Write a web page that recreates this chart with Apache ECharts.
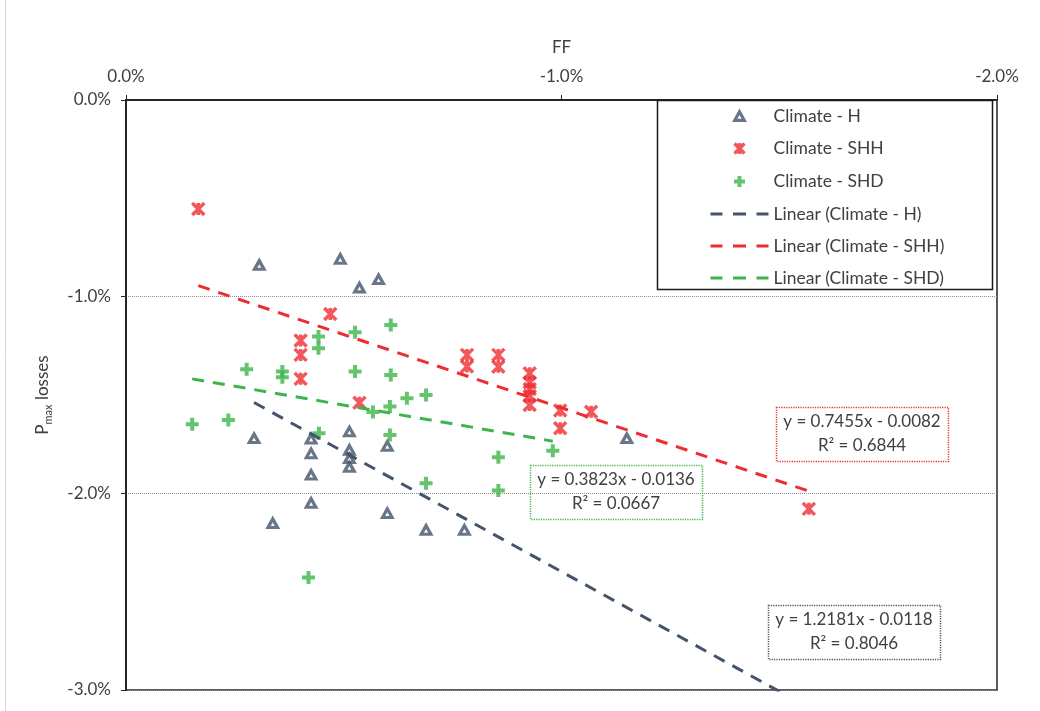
<!DOCTYPE html>
<html>
<head>
<meta charset="utf-8">
<script src="https://cdn.jsdelivr.net/npm/echarts@6/dist/echarts.min.js"></script>
<style>
  html, body { margin: 0; padding: 0; background: #fff; }
  #chart { width: 1040px; height: 711px; }
</style>
</head>
<body>
<div id="chart"></div>
<script>
// FF change (%) and Pmax losses (%) per climate group
const hFF    = [-0.306, -0.492, -0.536, -0.580, -0.294, -0.425, -0.425, -0.425, -0.425, -0.337,
                -0.513, -0.513, -0.513, -0.513, -0.600, -0.600, -0.689, -0.777, -1.150];
const hLoss  = [-0.839, -0.808, -0.954, -0.912, -1.720, -1.722, -1.797, -1.906, -2.049, -2.152,
                -1.686, -1.779, -1.822, -1.866, -1.759, -2.101, -2.186, -2.186, -1.720];

const shhFF   = [-0.166, -0.469, -0.401, -0.401, -0.401, -0.536, -0.783, -0.783, -0.855, -0.855,
                 -0.927, -0.927, -0.927, -0.927, -0.927, -0.997, -0.997, -1.068, -1.568];
const shhLoss = [-0.554, -1.088, -1.223, -1.296, -1.418, -1.539, -1.296, -1.355, -1.296, -1.356,
                 -1.389, -1.436, -1.469, -1.505, -1.551, -1.579, -1.669, -1.585, -2.079];

const shdFF   = [-0.152, -0.235, -0.277, -0.359, -0.359, -0.442, -0.442, -0.526, -0.608, -0.526,
                 -0.608, -0.645, -0.689, -0.606, -0.567, -0.443, -0.606, -0.689, -0.855, -0.855,
                 -0.980, -0.419];
const shdLoss = [-1.649, -1.627, -1.369, -1.381, -1.410, -1.202, -1.262, -1.181, -1.144, -1.381,
                 -1.398, -1.517, -1.500, -1.559, -1.586, -1.695, -1.703, -1.949, -1.817, -1.986,
                 -1.783, -2.428];

const seriesNames = ['Climate - H', 'Climate - SHH', 'Climate - SHD'];
const fitNames    = ['Linear (Climate - H)', 'Linear (Climate - SHH)', 'Linear (Climate - SHD)'];
// linear fits in fractional units (y = slope * x + intercept), with their x spans in %
const fitSlope     = [1.2181, 0.7455, 0.3823];
const fitIntercept = [-0.0118, -0.0082, -0.0136];
const fitR2        = [0.8046, 0.6844, 0.0667];
const fitFrom      = [-0.294, -0.166, -0.152];
const fitTo        = [-1.600, -1.568, -0.980];

const xRange = [-2, 0];
const yRange = [-3, 0];
const tickStep = 1;

const FONT = 'Lato, "Open Sans", sans-serif';
const TEXT = '#404040';
const colors = ['#44546A', '#EE2D32', '#3DB54A'];

function pairs(xs, ys) { return xs.map((x, i) => [x, ys[i]]); }
function fitLine(k) {
  const f = x => fitSlope[k] * x + fitIntercept[k] * 100;
  return [[fitFrom[k], f(fitFrom[k])], [fitTo[k], f(fitTo[k])]];
}
function fitLabel(k) {
  const b = fitIntercept[k];
  return 'y = ' + fitSlope[k].toFixed(4) + 'x ' + (b < 0 ? '- ' : '+ ') + Math.abs(b).toFixed(4) +
         '\nR² = ' + fitR2[k].toFixed(4);
}
const pct = v => v.toFixed(1) + '%';

// marker shapes
const STAR = 'path://M0 0L12 12M12 0L0 12M6 0V12';
const PLUS = 'path://M6 0V12M0 6H12';
// legend icons laid out in a 58x14 box
const ICON_TRI  = 'path://M0 0M58 14M29 2.7L33.75 11.3L24.25 11.3Z';
const ICON_STAR = 'path://M0 0M58 14M24 2L34 12M34 2L24 12M29 1.5V12.5';
const ICON_PLUS = 'path://M0 0M58 14M29 1.5V12.5M23.5 7H34.5';
const ICON_DASH = 'path://M0 0M58 14M0 5.5h12v3h-12zM22.5 5.5h13v3h-13zM46 5.5h12v3h-12z';

const chart = echarts.init(document.getElementById('chart'), null, { renderer: 'canvas' });

const scatterStyle = [
  { symbol: 'triangle', symbolSize: [9.5, 8.5], itemStyle: { color: '#fff', borderColor: colors[0], borderWidth: 3.2 } },
  { symbol: STAR, symbolSize: 12, itemStyle: { color: 'none', borderColor: colors[1], borderWidth: 3.5 } },
  { symbol: PLUS, symbolSize: 13, itemStyle: { color: 'none', borderColor: colors[2], borderWidth: 4 } }
];
const groups = [pairs(hFF, hLoss), pairs(shhFF, shhLoss), pairs(shdFF, shdLoss)];

const series = [];
groups.forEach((data, k) => {
  series.push(Object.assign({
    name: seriesNames[k], type: 'scatter', data: data, z: 3,
    emphasis: { disabled: true }
  }, scatterStyle[k]));
});
[0, 1, 2].forEach(k => {
  series.push({
    name: fitNames[k], type: 'line', data: fitLine(k), symbol: 'none', z: 4, clip: true,
    lineStyle: { color: colors[k], width: 3, type: [12, 9] },
    itemStyle: { color: colors[k] },
    emphasis: { disabled: true }
  });
});

const legendIcons = [ICON_TRI, ICON_STAR, ICON_PLUS];
const legendData = seriesNames.map((n, k) => ({
  name: n, icon: legendIcons[k],
  itemStyle: Object.assign({}, scatterStyle[k].itemStyle)
})).concat(fitNames.map((n, k) => ({
  name: n, icon: ICON_DASH, itemStyle: { color: colors[k], borderWidth: 0 }
})));

// equation boxes: [left, top] of each dotted frame
const eqBoxes = [[768, 605], [776, 407], [530, 465]];
const eqGraphics = [];
eqBoxes.forEach((p, k) => {
  eqGraphics.push({
    type: 'rect', z: 6, silent: true,
    shape: { x: p[0] + 0.5, y: p[1] + 0.5, width: 172, height: 54 },
    style: { fill: 'none', stroke: colors[k], lineWidth: 1.5, lineDash: [1.2, 1.2] }
  });
  eqGraphics.push({
    type: 'text', z: 7, silent: true, x: p[0] + 86, y: p[1] + 27,
    style: {
      text: fitLabel(k), fill: TEXT, font: '17px ' + FONT,
      align: 'center', verticalAlign: 'middle', lineHeight: 24
    }
  });
});

chart.setOption({
  animation: false,
  backgroundColor: '#fff',
  grid: {
    left: 126, right: 43, top: 100, bottom: 21,
    show: true, borderColor: '#262626', borderWidth: 1.5, backgroundColor: 'transparent'
  },
  xAxis: {
    type: 'value', position: 'top', inverse: true,
    min: xRange[0], max: xRange[1], interval: tickStep,
    name: 'FF', nameLocation: 'middle', nameGap: 44,
    nameTextStyle: { fontFamily: FONT, fontSize: 17, color: TEXT },
    axisLine: { show: true, onZero: false, lineStyle: { color: '#262626', width: 2 } },
    axisTick: { show: true, length: 5, lineStyle: { color: '#262626', width: 1 } },
    axisLabel: { formatter: pct, fontFamily: FONT, fontSize: 17, color: TEXT, margin: 15 },
    splitLine: { show: false }
  },
  yAxis: {
    type: 'value',
    min: yRange[0], max: yRange[1], interval: tickStep,
    name: '{a|P}{b|max}{a| losses}', nameLocation: 'middle', nameGap: 72, nameRotate: 90,
    nameTextStyle: {
      rich: {
        a: { fontFamily: FONT, fontSize: 17, color: TEXT, lineHeight: 22 },
        b: { fontFamily: FONT, fontSize: 11, color: TEXT, lineHeight: 12, verticalAlign: 'bottom' }
      }
    },
    axisLine: { show: true, onZero: false, lineStyle: { color: '#262626', width: 2 } },
    axisTick: { show: true, length: 5, lineStyle: { color: '#262626', width: 1 } },
    axisLabel: { formatter: pct, fontFamily: FONT, fontSize: 17, color: TEXT, margin: 15 },
    splitLine: { show: true, lineStyle: { color: '#8f8f8f', width: 1, type: [1, 1] } }
  },
  legend: {
    orient: 'vertical', left: 703, top: 102,
    itemWidth: 58, itemHeight: 14, itemGap: 14,
    selectedMode: false, z: 8,
    textStyle: { fontFamily: FONT, fontSize: 17.5, color: TEXT },
    data: legendData
  },
  graphic: [
    {
      type: 'line', silent: true, z: 1,
      shape: { x1: 5.5, y1: 0, x2: 5.5, y2: 711 },
      style: { stroke: '#d9d9d9', lineWidth: 1 }
    },
    {
      type: 'rect', silent: true, z: 5,
      shape: { x: 657.5, y: 100.5, width: 335, height: 189 },
      style: { fill: '#fff', stroke: '#1a1a1a', lineWidth: 1.5 }
    }
  ].concat(eqGraphics),
  series: series
});
</script>
</body>
</html>
